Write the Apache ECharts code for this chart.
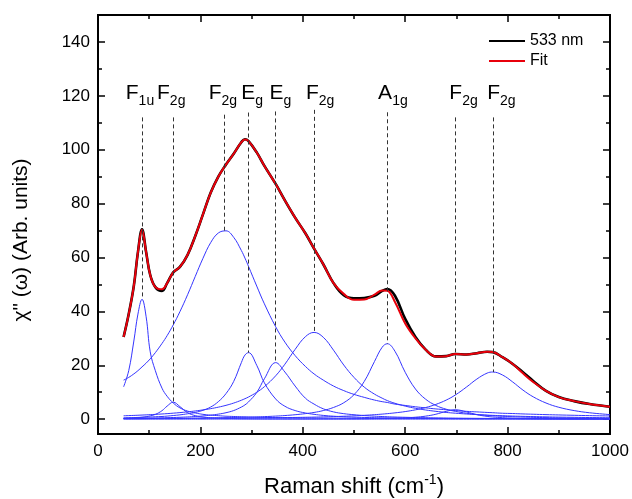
<!DOCTYPE html>
<html><head><meta charset="utf-8">
<script src="https://cdn.jsdelivr.net/npm/echarts@6/dist/echarts.min.js"></script>
<style>html,body{margin:0;padding:0;background:#fff}#c{width:632px;height:499px}</style>
</head><body><div id="c"></div>
<script>
// Raman shift sample positions (cm^-1)
const ramanShift = [50,60,70,78,86,94,102,112,125,135,147,160,175,190,205,220,235,250,265,280,287,294,310,325,347,365,385,405,422,440,460,480,500,520,540,555,565,580,600,620,640,660,680,698,720,740,760,771,790,810,830,850,875,900,930,960,1000];

// measured spectrum (533 nm)
const measured533 = [30.5,39,49.5,62,70.5,62,53.5,49,47.6,50.5,54.5,56.5,61,68,76,84,90,94.5,98.5,102.8,103.9,103.2,99,94,87.3,81.2,74.8,69,63.3,57.5,50.5,46.0,44.9,45.0,45.8,47.6,48.3,45.8,37.2,30.5,25.8,23.3,23.4,24.2,24.0,24.5,25.0,24.9,23.0,20.5,17.4,14.2,10.5,8.2,6.7,5.6,4.6];
// total fit
const fitTotal = [30.5,39,49.5,62,70.3,62,53.5,49,48.2,50.5,54.5,56.5,61,68,76,84,90,94.5,98.5,102.8,103.8,103.2,99,94,87.3,81.2,74.8,69,63.3,57.5,50.5,46.5,44.3,44.4,46.2,47.8,47.7,43.5,35.5,30,25.8,23.3,23.4,24.2,24.0,24.5,25.0,24.9,23.0,20.5,17.0,13.8,10.5,8.2,6.7,5.6,4.6];

// fitted components
const compF1u86 = [12,18,29,39,44.5,38,25,18,11.5,8.5,6,4.2,3,2.3,1.8,1.5,1.3,1.1,1.0,0.9,0.85,0.8,0.7,0.65,0.6,0.55,0.5,0.47,0.45,0.42,0.4,0.38,0.36,0.34,0.32,0.31,0.3,0.29,0.28,0.27,0.26,0.25,0.24,0.23,0.22,0.21,0.2,0.2,0.19,0.18,0.17,0.16,0.15,0.14,0.13,0.12,0.11];
const compF2g147 = [0.31,0.37,0.47,0.58,0.72,0.93,1.22,1.78,3.15,4.85,6.3,4.67,2.4,1.31,0.79,0.52,0.38,0.29,0.22,0.17,0.16,0.14,0.12,0.1,0.09,0.08,0.07,0.06,0.05,0.05,0.04,0.04,0.03,0.03,0.03,0.03,0.03,0.03,0.03,0.03,0.03,0.03,0.02,0.02,0.02,0.02,0.02,0.02,0.02,0.02,0.02,0.02,0.02,0.02,0.02,0.02,0.02];
const compF2g246 = [14.5,15.5,16.8,18.0,19.4,20.8,22.4,24.7,28.1,31.0,35.0,39.9,46.2,53.0,59.7,65.5,69.1,69.9,67.5,62.6,59.8,56.7,49.4,42.8,34.3,28.6,23.6,19.6,16.8,14.5,12.3,10.6,9.2,8.1,7.1,6.5,6.2,5.6,5.1,4.6,4.2,3.8,3.5,3.2,2.9,2.7,2.5,2.4,2.2,2.1,1.95,1.83,1.69,1.57,1.44,1.32,1.19];
const compEg294 = [0.5,0.55,0.6,0.65,0.7,0.75,0.8,0.9,1.0,1.15,1.35,1.6,2.0,2.5,3.3,4.5,6.5,9.5,14.0,21.0,23.8,24.7,20.0,13.5,7.5,4.8,3.2,2.3,1.8,1.4,1.1,0.9,0.75,0.65,0.55,0.5,0.47,0.44,0.4,0.36,0.33,0.3,0.28,0.26,0.24,0.22,0.21,0.2,0.19,0.18,0.17,0.16,0.15,0.14,0.13,0.12,0.11];
const compEg347 = [0.29,0.31,0.33,0.35,0.37,0.39,0.42,0.45,0.51,0.56,0.62,0.71,0.84,1.0,1.2,1.48,1.87,2.4,3.2,4.5,5.3,6.4,9.9,15.0,21.0,17.5,12.3,7.8,5.6,3.85,2.7,2.05,1.65,1.35,1.12,0.98,0.9,0.8,0.7,0.6,0.53,0.47,0.42,0.38,0.34,0.31,0.28,0.27,0.25,0.23,0.21,0.2,0.18,0.17,0.15,0.14,0.13];
const compF2g422 = [1.26,1.33,1.4,1.46,1.53,1.6,1.68,1.78,1.93,2.06,2.23,2.44,2.72,3.05,3.44,3.9,4.46,5.14,5.98,7.03,7.6,8.23,9.97,12.06,16.1,20.4,25.9,30.6,32.2,30.4,25.6,20.1,15.5,11.9,9.3,7.8,6.9,5.9,4.86,4.04,3.41,2.91,2.5,2.22,1.92,1.7,1.51,1.42,1.28,1.16,1.05,0.96,0.86,0.77,0.69,0.61,0.53];
const compA1g565 = [0.2,0.21,0.22,0.23,0.24,0.25,0.26,0.27,0.29,0.3,0.32,0.34,0.37,0.4,0.43,0.47,0.51,0.56,0.62,0.68,0.72,0.75,0.85,0.95,1.14,1.35,1.65,2.06,2.5,3.2,4.35,6.1,9.1,14.0,21.4,26.7,28.0,25.2,17.4,11.2,7.4,5.1,3.7,2.9,2.2,1.74,1.42,1.27,1.08,0.91,0.78,0.68,0.58,0.5,0.42,0.36,0.3];
const compF2g698 = [0.015,0.016,0.017,0.018,0.019,0.02,0.021,0.022,0.024,0.025,0.027,0.029,0.031,0.033,0.035,0.037,0.04,0.042,0.045,0.048,0.05,0.052,0.055,0.06,0.065,0.07,0.075,0.08,0.09,0.1,0.11,0.12,0.14,0.17,0.21,0.25,0.29,0.36,0.5,0.73,1.13,1.84,2.9,3.5,2.69,1.67,1.03,0.81,0.56,0.4,0.29,0.23,0.17,0.13,0.1,0.08,0.06];
const compF2g771 = [0.19,0.19,0.2,0.2,0.21,0.21,0.22,0.23,0.24,0.24,0.25,0.27,0.28,0.29,0.31,0.33,0.35,0.36,0.38,0.4,0.41,0.42,0.45,0.48,0.53,0.58,0.64,0.71,0.77,0.85,0.96,1.09,1.24,1.43,1.67,1.88,2.05,2.34,2.82,3.47,4.32,5.49,7.08,8.99,11.97,14.9,17.1,17.5,16.4,13.8,10.8,8.3,6.0,4.42,3.19,2.38,1.7];

// phonon mode annotations
const modeMain = ['F','F','F','E','E','F','A','F','F'];
const modeSub = ['1u','2g','2g','g','g','2g','1g','2g','2g'];
const modeX = [86,147,246,294,347,422,565,698,771];
const modeTop = [112,112,113,113.8,114.2,114.8,113.9,112,112];
const modeBottom = [44.5,6.3,70,24.7,21,32.2,28,3.5,17.5];
const modeLabelX = [82,143,244,301,356,434,576,714,788];
const modeLabelY = 121;

// axis ticks
const xTickStep = 200;
const yMajorTicks = [0,20,40,60,80,100,120,140];
const yMinorTicks = [10,30,50,70,90,110,130];

const FONT = '"Liberation Sans", Arial, sans-serif';
const components = [compF1u86, compF2g147, compF2g246, compEg294, compEg347, compF2g422, compA1g565, compF2g698, compF2g771];
const pairs = arr => ramanShift.map((x, i) => [x, arr[i]]);

const chart = echarts.init(document.getElementById('c'), null, {renderer: 'canvas'});

const axisLineStyle = {color: '#000', width: 2};
function yAxisDef(pos, ticks, len, labels) {
  return {
    type: 'value', position: pos, min: -5.5, max: 150,
    axisLine: {show: true, onZero: false, lineStyle: axisLineStyle},
    axisTick: {show: true, inside: true, length: len, customValues: ticks, lineStyle: {color: '#000', width: 1.5}},
    axisLabel: labels ? {show: true, customValues: ticks, fontSize: 17, color: '#000', fontFamily: FONT, margin: 8} : {show: false},
    splitLine: {show: false}
  };
}
function xAxisDef(pos, labels) {
  return {
    type: 'value', position: pos, min: 0, max: 1000, interval: xTickStep,
    axisLine: {show: true, onZero: false, lineStyle: axisLineStyle},
    axisTick: {show: true, inside: true, length: 7, lineStyle: {color: '#000', width: 1.5}},
    minorTick: {show: true, splitNumber: 2, length: 4, lineStyle: {color: '#000', width: 1.5}},
    axisLabel: labels ? {show: true, fontSize: 17, color: '#000', fontFamily: FONT, margin: 9, formatter: v => String(v)} : {show: false},
    splitLine: {show: false}, minorSplitLine: {show: false}
  };
}

const yLeft = yAxisDef('left', yMajorTicks, 7, true);
yLeft.name = 'χ" (ω) (Arb. units)';
yLeft.nameLocation = 'middle';
yLeft.nameGap = 66;
yLeft.nameRotate = 90;
yLeft.nameTextStyle = {fontSize: 21, color: '#000', fontFamily: FONT, padding: [0, 31, 0, 0]};

const xBottom = xAxisDef('bottom', true);
xBottom.name = '{a|Raman shift (cm}{b|-1}{a|)}';
xBottom.nameLocation = 'middle';
xBottom.nameGap = 39;
xBottom.nameTextStyle = {
  fontFamily: FONT, color: '#000',
  rich: {
    a: {fontSize: 22, fontFamily: FONT, color: '#000', lineHeight: 28, verticalAlign: 'middle'},
    b: {fontSize: 14, fontFamily: FONT, color: '#000', lineHeight: 16, verticalAlign: 'top'}
  }
};

const series = [];
components.forEach((arr, k) => {
  series.push({
    name: 'comp' + k, type: 'line', data: pairs(arr), xAxisIndex: 0, yAxisIndex: 0,
    showSymbol: false, symbol: 'none', smooth: 0.4, silent: true,
    lineStyle: {color: '#3535ff', width: 1}, z: 2, animation: false
  });
});
series.push({
  name: '533 nm', type: 'line', data: pairs(measured533), symbol: 'none', showSymbol: false, smooth: 0.4,
  lineStyle: {color: '#000', width: 2.6}, itemStyle: {color: '#000'}, z: 3, animation: false
});
series.push({
  name: 'Fit', type: 'line', data: pairs(fitTotal), symbol: 'none', showSymbol: false, smooth: 0.4,
  lineStyle: {color: '#e8000b', width: 2}, itemStyle: {color: '#e8000b'}, z: 4, animation: false
});
series.push({
  name: 'modes', type: 'scatter', symbolSize: 0, z: 5, animation: false, silent: true,
  itemStyle: {color: '#000'},
  data: modeLabelX.map((x, i) => [x, modeLabelY]),
  label: {
    show: true, position: 'inside', color: '#000', textBorderWidth: 0, opacity: 1,
    formatter: p => '{m|' + modeMain[p.dataIndex] + '}{s|' + modeSub[p.dataIndex] + '}',
    rich: {
      m: {fontSize: 21, fontFamily: FONT, color: '#000', textBorderWidth: 0, lineHeight: 30, verticalAlign: 'middle'},
      s: {fontSize: 14, fontFamily: FONT, color: '#000', textBorderWidth: 0, lineHeight: 14, verticalAlign: 'bottom'}
    }
  },
  markLine: {
    silent: true, symbol: ['none', 'none'], animation: false,
    label: {show: false},
    lineStyle: {type: [4, 3], color: '#333', width: 1},
    emphasis: {disabled: true},
    data: modeX.map((x, i) => [{coord: [x, modeTop[i]]}, {coord: [x, modeBottom[i]]}])
  }
});

chart.setOption({
  backgroundColor: '#fff',
  animation: false,
  grid: {left: 98, right: 22, top: 15, bottom: 65, containLabel: false, outerBoundsMode: 'none'},
  legend: {
    data: [{name: '533 nm', icon: 'rect'}, {name: 'Fit', icon: 'rect'}],
    orient: 'vertical', left: 489, top: 33,
    itemWidth: 36, itemHeight: 2, itemGap: 4, padding: 0,
    textStyle: {fontSize: 16, color: '#000', fontFamily: FONT, lineHeight: 16}
  },
  xAxis: [xBottom, xAxisDef('top', false)],
  yAxis: [yLeft, yAxisDef('left', yMinorTicks, 4, false), yAxisDef('right', yMajorTicks, 7, false), yAxisDef('right', yMinorTicks, 4, false)],
  series: series
});
</script></body></html>
